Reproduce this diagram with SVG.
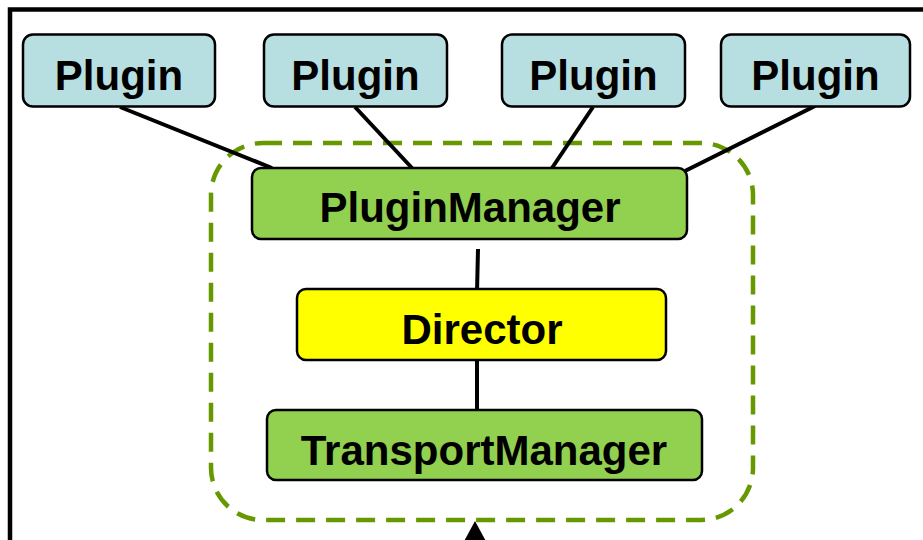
<svg xmlns="http://www.w3.org/2000/svg" width="923" height="540" viewBox="0 0 923 540">
  <defs>
    <style>
      .plugin rect { fill: #B7DFE2; stroke: #000; stroke-width: 2.5; }
      .mgr rect { fill: #92D050; stroke: #000; stroke-width: 2.5; }
      .dir rect { fill: #FFFF00; stroke: #000; stroke-width: 2.5; }
      text { font-family: "Liberation Sans", Arial, sans-serif; font-weight: bold; font-size: 42px; fill: #000; text-anchor: middle; }
      .edge { stroke: #000; stroke-width: 4; fill: none; }
    </style>
  </defs>
  <rect width="923" height="540" fill="#fff"/>
  <!-- outer frame -->
  <path d="M10 540 V9.5 H923" fill="none" stroke="#000" stroke-width="4.5"/>
  <!-- core grouping boundary -->
  <rect id="core" x="211" y="143" width="542" height="377" rx="52" fill="none" stroke="#669900" stroke-width="4.5" stroke-dasharray="19,11"/>
  <!-- incoming arrow at bottom -->
  <polygon points="475,521 462,545 488,545" fill="#000"/>

  <g id="connectors">
    <line class="edge" x1="120" y1="107" x2="272" y2="168"/>
    <line class="edge" x1="355" y1="107" x2="412" y2="168"/>
    <line class="edge" x1="593" y1="107" x2="552" y2="168"/>
    <line class="edge" x1="815" y1="106" x2="685" y2="171"/>
    <line class="edge" x1="478" y1="249" x2="477" y2="292"/>
    <line class="edge" x1="477" y1="361" x2="477" y2="412"/>
  </g>

  <g id="plugin1" class="plugin">
    <rect x="23" y="34.5" width="192" height="72" rx="10"/>
    <text x="119" y="90">Plugin</text>
  </g>
  <g id="plugin2" class="plugin">
    <rect x="264" y="34.5" width="183" height="72" rx="10"/>
    <text x="355.5" y="90">Plugin</text>
  </g>
  <g id="plugin3" class="plugin">
    <rect x="502" y="34.5" width="183" height="72" rx="10"/>
    <text x="593.5" y="90">Plugin</text>
  </g>
  <g id="plugin4" class="plugin">
    <rect x="721" y="34.5" width="189" height="72" rx="10"/>
    <text x="815.5" y="90">Plugin</text>
  </g>

  <g id="pluginManager" class="mgr">
    <rect x="252" y="168" width="435" height="71" rx="9"/>
    <text x="470" y="222">PluginManager</text>
  </g>
  <g id="director" class="dir">
    <rect x="297" y="289" width="369" height="71" rx="9"/>
    <text x="482" y="344">Director</text>
  </g>
  <g id="transportManager" class="mgr">
    <rect x="267" y="410" width="435" height="70" rx="9"/>
    <text x="484" y="465">TransportManager</text>
  </g>
</svg>
